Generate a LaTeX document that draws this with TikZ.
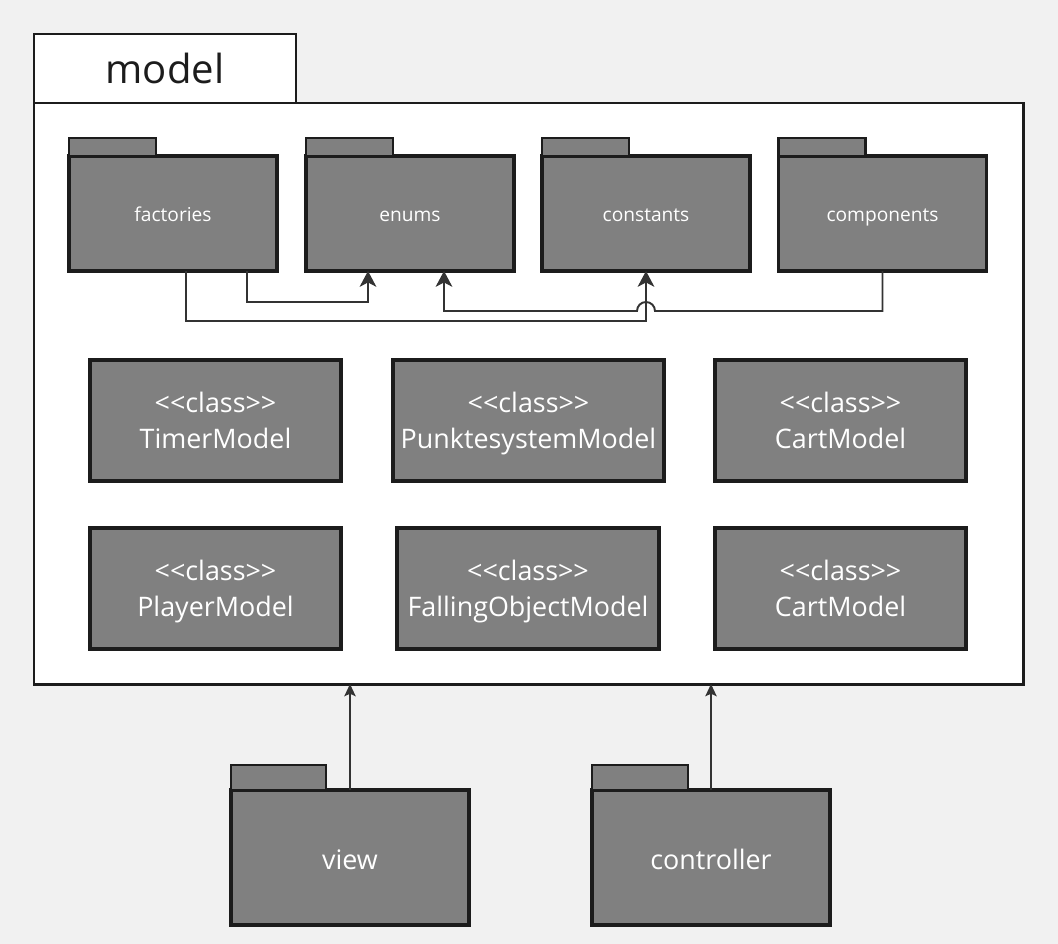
\documentclass[tikz,border=0pt]{standalone}
\usepackage{fontspec}
\setmainfont{Open Sans}
\usetikzlibrary{arrows.meta,positioning}
\definecolor{fond}{HTML}{F1F1F1}
\definecolor{gris}{HTML}{808080}
\definecolor{trait}{HTML}{1C1C1C}
\definecolor{lien}{HTML}{333333}
\begin{document}
\begin{tikzpicture}
			\tikzset{paquet/.style={draw=trait, fill=gris, line width=1.8pt, text=white, inner sep=0pt, outer sep=0pt, minimum width=4.16cm, minimum height=2.3cm, font=\fontsize{10.9}{13}\selectfont, execute at begin node={\rule{0pt}{1.1em}}, execute at end node={\rule[-0.24em]{0pt}{0.24em}}},
			onglet/.style={draw=trait, fill=gris, line width=1.4pt, inner sep=0pt, outer sep=0pt, minimum width=1.74cm, minimum height=0.36cm, anchor=south west},
			classe/.style={draw=trait, fill=gris, line width=1.8pt, text=white, inner sep=0pt, outer sep=0pt, align=center, minimum height=2.42cm, font=\fontsize{15.3}{20.5}\selectfont, text depth=-0.1em},
			fleche/.style={>={Stealth[length=9pt, width=9.5pt, inset=2.5pt]}, ->, draw=lien, line width=1.1pt},
			fin/.style={>={Stealth[length=7pt, width=6.5pt, inset=1.5pt]}, ->, draw=lien, line width=1pt}};

			\fill[fond] (0,0) rectangle (21.16,-18.88);

			\node[draw=trait, fill=white, line width=1.7pt, inner sep=0pt, outer sep=0pt, minimum width=19.78cm, minimum height=11.62cm] (mod) at (10.57,-7.87) {};
			\node[draw=trait, fill=white, line width=1.7pt, inner sep=0pt, outer sep=0pt, minimum width=5.24cm, minimum height=1.38cm, anchor=south west, text=trait, font=\fontsize{22.8}{27}\selectfont] (modt) at (mod.north west) {model};

			\node[paquet] (fac) at ( 3.46, -4.27) {factories};
			\node[paquet] (enu) at ( 8.20, -4.27) {enums};
			\node[paquet] (con) at (12.92, -4.27) {constants};
			\node[paquet] (com) at (17.65, -4.27) {components};
			\node[onglet] (faco) at (fac.north west) {};
			\node[onglet] (enuo) at (enu.north west) {};
			\node[onglet] (cono) at (con.north west) {};
			\node[onglet] (como) at (com.north west) {};

			\node[classe, minimum width=5.02cm] (tim) at ( 4.31,  -8.41) {<{}<class>{}>\\TimerModel};
			\node[classe, minimum width=5.42cm] (pun) at (10.57,  -8.41) {<{}<class>{}>\\PunktesystemModel};
			\node[classe, minimum width=5.02cm] (car) at (16.81,  -8.41) {<{}<class>{}>\\CartModel};
			\node[classe, minimum width=5.02cm] (pla) at ( 4.31, -11.77) {<{}<class>{}>\\PlayerModel};
			\node[classe, minimum width=5.24cm] (fal) at (10.56, -11.77) {<{}<class>{}>\\FallingObjectModel};
			\node[classe, minimum width=5.02cm] (cad) at (16.81, -11.77) {<{}<class>{}>\\CartModel};

			\node[paquet, minimum width=4.76cm, minimum height=2.7cm, font=\fontsize{15.3}{18}\selectfont] (vue) at ( 7.00, -17.15) {view};
			\node[paquet, minimum width=4.76cm, minimum height=2.7cm, font=\fontsize{15.3}{18}\selectfont] (ctr) at (14.22, -17.15) {controller};
			\node[onglet, minimum width=1.9cm, minimum height=0.5cm] (vueo) at (vue.north west) {};
			\node[onglet, minimum width=1.92cm, minimum height=0.5cm] (ctro) at (ctr.north west) {};

			\draw[fleche] ([xshift=1.48cm]fac.south) -- ++(0,-0.62) -| ([xshift=-0.84cm]enu.south);
			\draw[fleche] ([xshift=0.26cm]fac.south) -- ++(0,-1.0) -| (con.south);
			\draw[fleche] (com.south) -- ++(0,-0.8) coordinate (saut) -- ([xshift=0.18cm]con.south |- saut) arc[start angle=0, end angle=180, radius=0.18cm] -| ([xshift=0.68cm]enu.south);

			\draw[fin] (vue.north) -- (vue.north |- mod.south);
			\draw[fin] (ctr.north) -- (ctr.north |- mod.south);

		\end{tikzpicture}
\end{document}
